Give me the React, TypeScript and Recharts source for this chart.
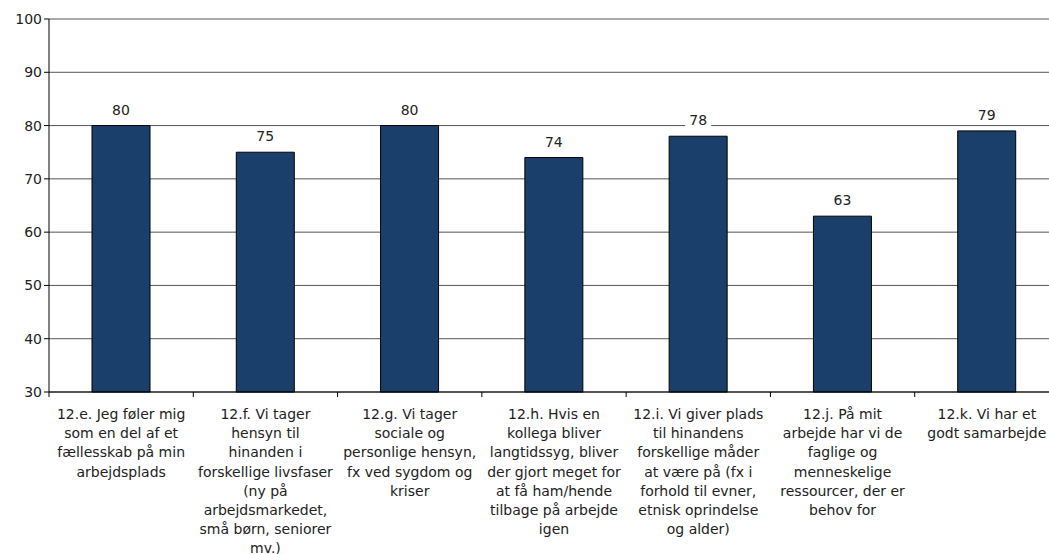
import { BarChart, Bar, XAxis, YAxis, CartesianGrid, LabelList } from "recharts";

const FONT = "'DejaVu Sans', Verdana, sans-serif";

// Kategorier (hver linje i aksens tekst)
const categoryLines: string[][] = [
  ["12.e. Jeg føler mig", "som en del af et", "fællesskab på min", "arbejdsplads"],
  ["12.f. Vi tager", "hensyn til", "hinanden i", "forskellige livsfaser", "(ny på", "arbejdsmarkedet,", "små børn, seniorer", "mv.)"],
  ["12.g. Vi tager", "sociale og", "personlige hensyn,", "fx ved sygdom og", "kriser"],
  ["12.h. Hvis en", "kollega bliver", "langtidssyg, bliver", "der gjort meget for", "at få ham/hende", "tilbage på arbejde", "igen"],
  ["12.i. Vi giver plads", "til hinandens", "forskellige måder", "at være på (fx i", "forhold til evner,", "etnisk oprindelse", "og alder)"],
  ["12.j. På mit", "arbejde har vi de", "faglige og", "menneskelige", "ressourcer, der er", "behov for"],
  ["12.k. Vi har et", "godt samarbejde"],
];
const values = [80, 75, 80, 74, 78, 63, 79];
const yTicks = [30, 40, 50, 60, 70, 80, 90, 100];

const data = categoryLines.map((lines, i) => ({ name: lines.join(" "), key: i, value: values[i] }));

// plotområdet går lidt ud over højre kant og beskæres af wrapperen
const VIEW_W = 1049;
const WIDTH = 1059;
const HEIGHT = 554;
const LEFT = 49;
const BAND = (WIDTH - LEFT) / categoryLines.length;

const CategoryTick = (props: any) => {
  const { x, y, payload, index } = props;
  const lines = categoryLines[payload.value] || [];
  const y0 = y - 8;
  return (
    <g>
      <line x1={x - BAND / 2} y1={y0} x2={x - BAND / 2} y2={y0 + 5} stroke="#000" />
      {index === categoryLines.length - 1 && (
        <line x1={x + BAND / 2} y1={y0} x2={x + BAND / 2} y2={y0 + 5} stroke="#000" />
      )}
      <text x={x} y={y0 + 27} textAnchor="middle" fontSize={14} fill="#222" fontFamily={FONT}>
        {lines.map((l, i) => (
          <tspan key={i} x={x} dy={i === 0 ? 0 : 19.2}>
            {l}
          </tspan>
        ))}
      </text>
    </g>
  );
};

const ValueLabel = (props: any) => {
  const { x, y, width, value } = props;
  const cx = x + width / 2;
  const w = String(value).length * 9 + 8;
  return (
    <g>
      <rect x={cx - w / 2} y={y - 25} width={w} height={18} fill="#fff" />
      <text x={cx} y={y - 11} textAnchor="middle" fontSize={14} fill="#222" fontFamily={FONT}>
        {value}
      </text>
    </g>
  );
};

export default function App() {
  return (
    <div style={{ position: "absolute", left: 0, top: 0, width: VIEW_W, height: HEIGHT, overflow: "hidden", background: "#fff" }}>
      <BarChart
        width={WIDTH}
        height={HEIGHT}
        data={data}
        margin={{ top: 19, right: 0, bottom: 0, left: 0 }}
      >
        <CartesianGrid vertical={false} stroke="#555" strokeWidth={1} />
        <XAxis
          dataKey="key"
          height={162}
          axisLine={{ stroke: "#000" }}
          tickLine={false}
          tick={<CategoryTick />}
          interval={0}
        />
        <YAxis
          width={LEFT}
          domain={[30, 100]}
          ticks={yTicks}
          interval={0}
          axisLine={{ stroke: "#000" }}
          tickLine={{ stroke: "#000" }}
          tickSize={5}
          tick={{ fontSize: 14, fill: "#222", fontFamily: FONT }}
        />
        <Bar dataKey="value" fill="#1b3f6b" stroke="#000" strokeWidth={1} barSize={58} isAnimationActive={false}>
          <LabelList dataKey="value" content={<ValueLabel />} />
        </Bar>
      </BarChart>
    </div>
  );
}
